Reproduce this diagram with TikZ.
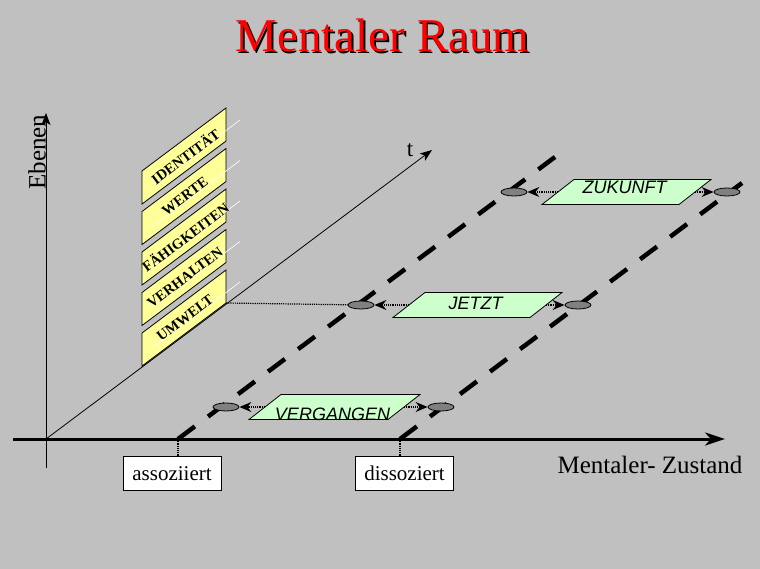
\documentclass[tikz,border=0pt]{standalone}
\usepackage{fontspec}
\setmainfont{Liberation Serif}
\newfontfamily\zeitfont{Liberation Sans}
\usetikzlibrary{arrows.meta,positioning,calc,shapes.geometric}
\definecolor{grund}{RGB}{192,192,192}
\definecolor{ebenegelb}{RGB}{255,255,153}
\definecolor{zeitgruen}{RGB}{204,255,204}
\definecolor{punkt}{RGB}{128,128,128}
\definecolor{titelrot}{RGB}{255,0,0}
\tikzset{
  every picture/.style={line width=0.8pt},
  achse/.style={-{Stealth[length=12pt,width=9pt,inset=3pt]}, line width=0.8pt},
  hauptachse/.style={-{Stealth[length=20pt,width=13pt,inset=6pt]}, line width=3pt},
  ebene/.style={draw=black, fill=ebenegelb, line width=0.8pt},
  ebenentext/.style={font=\bfseries\fontsize{14.5}{14.5}\selectfont, rotate=36.8, inner sep=0pt},
  glanz/.style={white, line width=0.6pt},
  zeitflaeche/.style={draw=black, fill=zeitgruen, line width=0.8pt},
  zeittext/.style={font=\zeitfont\itshape\fontsize{18}{18}\selectfont, inner sep=0pt},
  strich/.style={line width=4.5pt, dash pattern=on 21pt off 16.5pt},
  punktoval/.style={ellipse, draw=black, fill=punkt, minimum width=26pt, minimum height=8pt, inner sep=0pt, line width=0.8pt},
  pfeil/.style={-{Stealth[length=12pt,width=10pt,inset=4pt]}, line width=1.2pt, densely dotted},
  punktlinie/.style={line width=1.2pt, densely dotted},
  kasten/.style={draw=black, fill=white, line width=0.8pt, minimum width=98pt, minimum height=34pt, inner sep=0pt, font=\fontsize{21}{21}\selectfont},
  gross/.style={font=\fontsize{25}{25}\selectfont},
}

\begin{document}
\begin{tikzpicture}[x=1pt, y=-1pt]
  % grey page, pixel coordinates from the top left
  \fill[grund] (0,0) rectangle (760,569);
  \useasboundingbox (0,0) rectangle (760,569);
  \node[font=\fontsize{47}{47}\selectfont, text=black, anchor=base] (schatten) at (384,53.5) {Mentaler Raum};
  \node[font=\fontsize{47}{47}\selectfont, text=titelrot, anchor=base] (titel) at (382.5,52) {Mentaler Raum};

  % axes
  \coordinate (O) at (46,439);
  \coordinate (oben) at (46,113);
  \coordinate (unten) at (46,468);
  \coordinate (links) at (13,439);
  \coordinate (rechts) at (725,439);
  \coordinate (tEnde) at (432,150);
  \draw[achse] (unten) -- (oben);
  \draw[achse] (O) -- (tEnde);
  \draw[hauptachse] (links) -- (rechts);
  \node[gross, rotate=90] (ebenen) at (37,152) {Ebenen};
  \node[font=\fontsize{23}{23}\selectfont] (t) at (410,150) {t};
  \node[gross, anchor=base] (zustand) at (650,473) {Mentaler- Zustand};

  % the five levels, stacked along the time axis
  \foreach \i/\name in {0/UMWELT,1/VERHALTEN,2/FÄHIGKEITEN,3/WERTE,4/IDENTITÄT} {
    \pgfmathsetmacro{\u}{303-40.5*\i}
    \draw[ebene] (142,\u+63) -- (226,\u) -- (226,\u-33) -- (142,\u+30) -- cycle;
    \draw[glanz] (152,\u+45) -- (240,\u-21);
    \node[ebenentext] (ebene\i) at (185,\u+15) {\name};
    \coordinate (ecke\i) at (226,\u);
  }

  % associated / dissociated time lines
  \coordinate (asso) at (178,439);
  \coordinate (disso) at (400,439);
  \coordinate (assoEnde) at (555,157);
  \coordinate (dissoEnde) at (742,183);
  \draw[strich] (asso) -- (assoEnde);
  \draw[strich] (disso) -- (dissoEnde);

  \foreach \n/\x/\y in {vl/226/407, vr/441/407, jl/361/305, jr/578/305, zl/514/192, zr/727/192}
    \node[punktoval] (\n) at (\x,\y) {};

  % past, present, future
  \foreach \n/\x/\y/\w/\txt/\dy in {verg/249/407/139/VERGANGEN/7, jetzt/393/305/137/JETZT/-2, zuk/542/192/137/ZUKUNFT/-5} {
    \draw[zeitflaeche] (\x,\y+12.5) -- ++(\w,0) -- ++(32,-25) -- ++(-\w,0) -- cycle;
    \coordinate (\n-l) at (\x+16,\y);
    \coordinate (\n-r) at (\x+\w+16,\y);
    \node[zeittext] (\n) at (\x+\w/2+14,\y+\dy) {\txt};
  }
  \draw[pfeil] (verg-l) -- (vl);
  \draw[pfeil] (verg-r) -- (vr);
  \draw[pfeil] (jetzt-l) -- (jl);
  \draw[pfeil] (jetzt-r) -- (jr);
  \draw[pfeil] (zuk-l) -- (zl);
  \draw[pfeil] (zuk-r) -- (zr);
  \draw[punktlinie] (ecke0) -- (jl);

  \node[kasten] (assoBox) at (172,473.5) {assoziiert};
  \node[kasten] (dissoBox) at (404.5,473) {dissoziert};
  \draw[punktlinie] (asso) -- (asso |- assoBox.north);
  \draw[punktlinie] (disso) -- (disso |- dissoBox.north);
\end{tikzpicture}
\end{document}
